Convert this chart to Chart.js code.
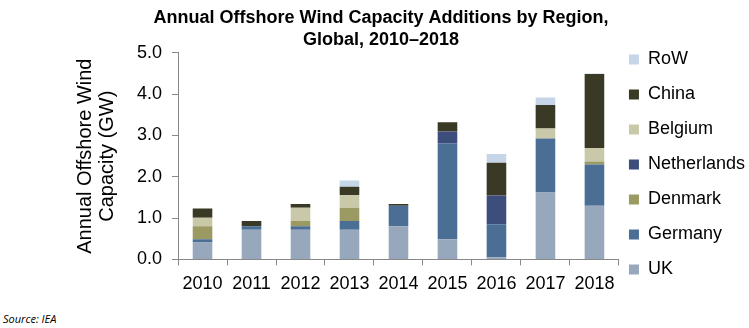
<!DOCTYPE html>
<html lang="en">
<head>
  <meta charset="UTF-8" />
  <title>Annual Offshore Wind Capacity Additions by Region</title>
  <script src="https://cdn.jsdelivr.net/npm/chart.js@4.4.1/dist/chart.umd.min.js"></script>
  <style>
    html, body {
      margin: 0;
      padding: 0;
      background: #fff;
    }
    .wrap {
      position: relative;
      width: 749px;
      height: 328px;
    }
    .source {
      position: absolute;
      left: 3px;
      top: 311px;
      font-family: "Open Sans", "Liberation Sans", sans-serif;
      font-style: italic;
      font-size: 11px;
      color: #000;
    }
  </style>
</head>
<body>
  <div class="wrap">
    <canvas id="windChart" width="749" height="305"></canvas>
    <div class="source">Source: IEA</div>
  </div>

  <script>
    // categories
    const years = ["2010", "2011", "2012", "2013", "2014", "2015", "2016", "2017", "2018"];

    // GW added per region
    const uk          = [0.41, 0.72, 0.72, 0.72, 0.80, 0.49, 0.05, 1.62, 1.30];
    const germany     = [0.08, 0.08, 0.08, 0.21, 0.50, 2.32, 0.80, 1.31, 1.00];
    const denmark     = [0.31, 0.00, 0.13, 0.32, 0.00, 0.00, 0.00, 0.00, 0.07];
    const netherlands = [0.00, 0.00, 0.00, 0.00, 0.00, 0.29, 0.70, 0.00, 0.00];
    const belgium     = [0.21, 0.00, 0.32, 0.31, 0.00, 0.00, 0.00, 0.24, 0.33];
    const china       = [0.22, 0.13, 0.09, 0.20, 0.04, 0.22, 0.79, 0.57, 1.79];
    const row         = [0.00, 0.00, 0.00, 0.15, 0.00, 0.00, 0.21, 0.18, 0.01];

    const yTicks = [0, 1, 2, 3, 4, 5];

    const ctx = document.getElementById("windChart").getContext("2d");
    const font = "'Liberation Sans', Arial, sans-serif";

    function ds(label, data, color) {
      return {
        label: label,
        data: data,
        backgroundColor: color,
        borderWidth: 0,
        barPercentage: 0.4,
        categoryPercentage: 1.0,
      };
    }

    // nudge the legend a bit closer to the bars and lower down
    const legendShift = {
      id: "legendShift",
      afterLayout(chart) {
        const lg = chart.legend;
        lg.left -= 7;
        lg.right -= 7;
        lg.top += 13;
        lg.bottom += 13;
      },
    };

    new Chart(ctx, {
      type: "bar",
      data: {
        labels: years,
        datasets: [
          ds("UK", uk, "#97a8bd"),
          ds("Germany", germany, "#4a6e94"),
          ds("Denmark", denmark, "#9a9a62"),
          ds("Netherlands", netherlands, "#3e4e7c"),
          ds("Belgium", belgium, "#c9c9a9"),
          ds("China", china, "#393926"),
          ds("RoW", row, "#c6d5e7"),
        ],
      },
      plugins: [legendShift],
      options: {
        responsive: false,
        animation: false,
        layout: { padding: { left: 0, right: -13, top: 0, bottom: 2 } },
        plugins: {
          tooltip: { enabled: false },
          title: {
            display: true,
            text: ["Annual Offshore Wind Capacity Additions by Region,", "Global, 2010\u20132018"],
            color: "#000",
            font: { family: font, size: 18, weight: "bold", lineHeight: 1.22 },
            padding: { top: 7, bottom: 2 },
          },
          legend: {
            position: "right",
            reverse: true,
            labels: {
              color: "#000",
              font: { family: font, size: 18 },
              boxWidth: 10,
              boxHeight: 10,
              padding: 17,
            },
          },
        },
        scales: {
          x: {
            stacked: true,
            border: { color: "#888" },
            grid: { drawOnChartArea: false, tickLength: 6, color: "#888" },
            ticks: { color: "#000", font: { family: font, size: 18 }, padding: 8 },
          },
          y: {
            stacked: true,
            min: 0,
            max: 5,
            afterBuildTicks: (axis) => {
              axis.ticks = yTicks.map((v) => ({ value: v }));
            },
            border: { color: "#888" },
            grid: { drawOnChartArea: false, tickLength: 6, color: "#888" },
            ticks: {
              color: "#000",
              font: { family: font, size: 18 },
              padding: 10,
              callback: (v) => Number(v).toFixed(1),
            },
            title: {
              display: true,
              text: ["Annual Offshore Wind", "Capacity (GW)"],
              color: "#000",
              font: { family: font, size: 20, lineHeight: 1.1 },
              padding: { top: 74, bottom: 9 },
            },
          },
        },
      },
    });
  </script>
</body>
</html>
